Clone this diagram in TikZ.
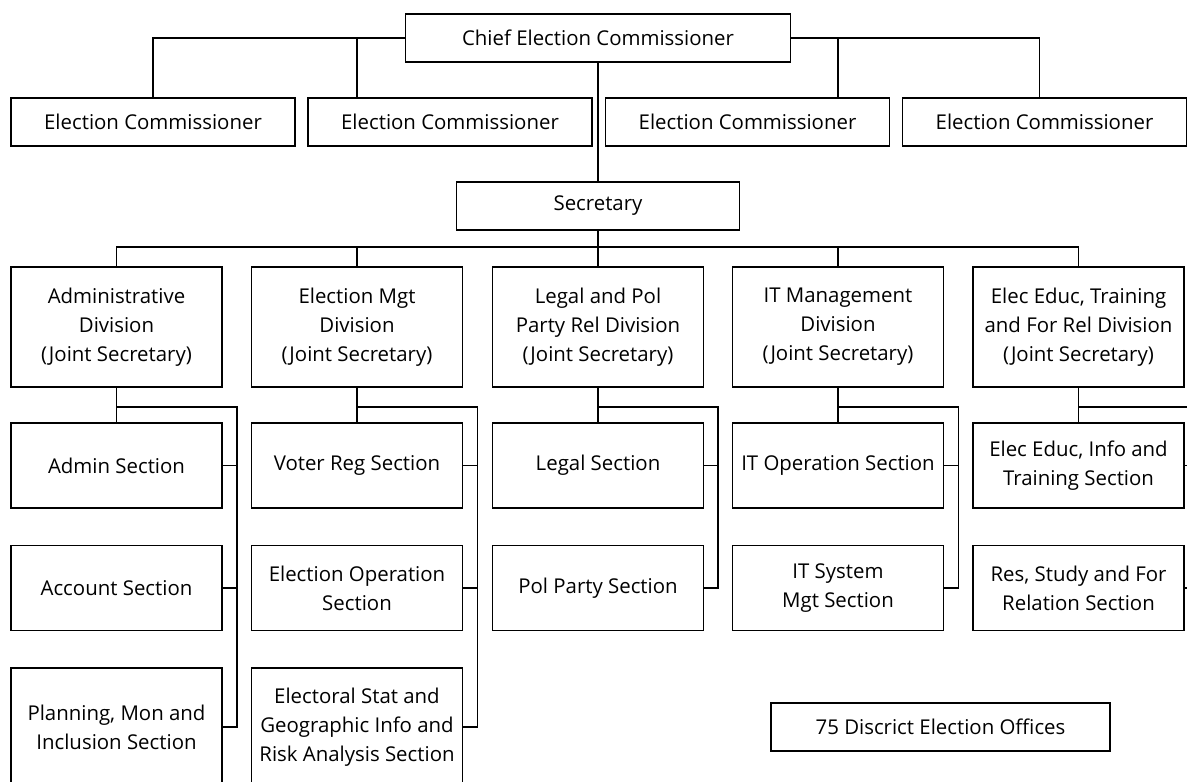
\documentclass[tikz,border=0pt]{standalone}
\usepackage{fontspec}
\setmainfont{Open Sans}

\tikzset{
  box/.style={draw, line width=0.6pt, align=center, inner sep=2pt,
    font=\fontsize{10.2}{14.5}\selectfont},
  ecbox/.style={box, minimum width=142pt, minimum height=24pt},
  divbox/.style={box, minimum width=105.5pt, minimum height=60pt},
  secbox/.style={box, minimum width=105.5pt, minimum height=42.5pt},
  tallbox/.style={box, minimum width=105.5pt, minimum height=59pt},
  link/.style={line width=0.6pt},
}

\begin{document}
\begin{tikzpicture}[x=0.5pt, y=-0.5pt]
    \useasboundingbox (0,0) rectangle (1187,781);

    % commission
    \node[box, minimum width=192.5pt, minimum height=24pt] (chief) at (598,38) {Chief Election Commissioner};
    \node[ecbox] (ec1) at (153,122) {Election Commissioner};
    \node[ecbox] (ec2) at (450,122) {Election Commissioner};
    \node[ecbox] (ec3) at (747.5,122) {Election Commissioner};
    \node[ecbox] (ec4) at (1044.5,122) {Election Commissioner};
    \node[box, minimum width=141.5pt, minimum height=24pt] (sec) at (598,206) {Secretary};

    % divisions
    \node[divbox] (div1) at (116.5,327) {Administrative\\Division\\(Joint Secretary)};
    \node[divbox] (div2) at (357,327) {Election Mgt\\Division\\(Joint Secretary)};
    \node[divbox] (div3) at (598,327) {Legal and Pol\\Party Rel Division\\(Joint Secretary)};
    \node[divbox] (div4) at (838,327) {IT Management\\Division\\(Joint Secretary)};
    \node[divbox] (div5) at (1078.5,327) {Elec Educ, Training\\and For Rel Division\\(Joint Secretary)};

    % sections
    \node[secbox] (s11) at (116.5,465.5) {Admin Section};
    \node[secbox] (s12) at (116.5,588) {Account Section};
    \node[tallbox] (s13) at (116.5,727) {Planning, Mon and\\Inclusion Section};
    \node[secbox] (s21) at (357,465.5) {Voter Reg Section};
    \node[secbox] (s22) at (357,588) {Election Operation\\Section};
    \node[tallbox] (s23) at (357,727) {Electoral Stat and\\Geographic Info and\\Risk Analysis Section};
    \node[secbox] (s31) at (598,465.5) {Legal Section};
    \node[secbox] (s32) at (598,588) {Pol Party Section};
    \node[secbox] (s41) at (838,465.5) {IT Operation Section};
    \node[secbox] (s42) at (838,588) {IT System\\Mgt Section};
    \node[secbox] (s51) at (1078.5,465.5) {Elec Educ, Info and\\Training Section};
    \node[secbox] (s52) at (1078.5,588) {Res, Study and For\\Relation Section};

    \node[box, minimum width=169.5pt, minimum height=24pt] (dist) at (940.5,727) {75 Discrict Election Offices};

    % top links
    \draw[link] (chief.west) -| (ec1.north);
    \draw[link] (chief.west) -| (ec2.north -| div2.north);
    \draw[link] (chief.east) -| (ec3.north -| div4.north);
    \draw[link] (chief.east) -| ([xshift=-2.5pt]ec4.north);
    \draw[link] (chief.south) -- (sec.north);

    % bus to divisions
    \coordinate (bus) at (598,247);
    \draw[link] (sec.south) -- (bus);
    \draw[link] (div1.north) |- (bus) -| (div5.north);
    \foreach \d in {div2,div3,div4}
        \draw[link] (\d.north) -- (\d.north |- bus);

    % division to sections
    \foreach \i/\x in {1/237,2/477.5,3/718,4/958.5,5/1199}
        \coordinate (knee\i) at (\x,407);
    \foreach \i/\last in {1/3,2/3,3/2,4/2,5/2} {
        \draw[link] (div\i.south) -- (s\i1.north);
        \draw[link] (div\i.south |- knee\i) -- (knee\i) |- (s\i\last.east);
        \foreach \j in {1,...,\last}
            \draw[link] (s\i\j.east) -- (s\i\j.east -| knee\i);
    }
\end{tikzpicture}
\end{document}
